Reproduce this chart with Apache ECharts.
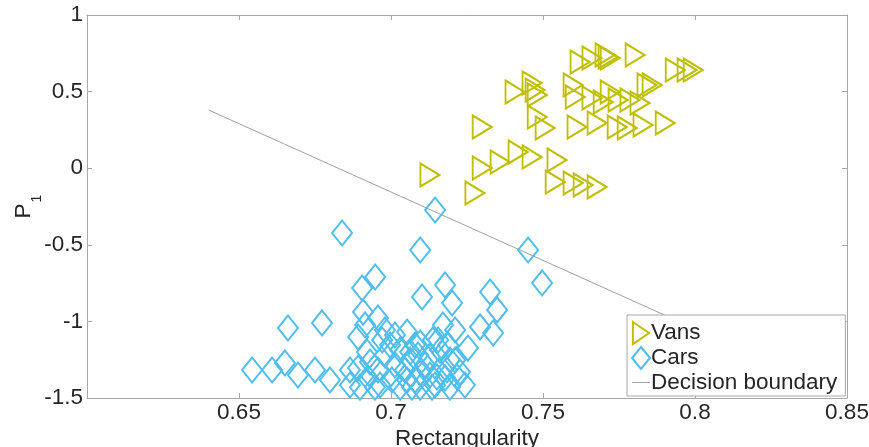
<!DOCTYPE html>
<html>
<head>
<meta charset="utf-8">
<script src="https://cdn.jsdelivr.net/npm/echarts@6/dist/echarts.min.js"></script>
<style>
html,body{margin:0;padding:0;background:#fff;}
#chart{width:869px;height:447px;}
</style>
</head>
<body>
<div id="chart"></div>
<script>
// Vans: [rectangularity, P1]
const vans = [
  [0.7128,-0.044],[0.7276,-0.162],[0.7300,0.269],[0.7300,0.001],[0.7359,0.041],
  [0.7418,0.106],[0.7464,0.073],[0.7408,0.497],[0.7464,0.556],[0.7474,0.510],
  [0.7481,0.478],[0.7481,0.334],[0.7507,0.262],[0.7546,0.054],[0.7540,-0.090],
  [0.7599,-0.097],[0.7632,-0.110],[0.7678,-0.123],[0.7599,0.543],[0.7606,0.465],
  [0.7612,0.269],[0.7622,0.693],[0.7661,0.719],[0.7704,0.739],[0.7714,0.726],
  [0.7721,0.719],[0.7803,0.739],[0.7661,0.458],[0.7721,0.497],[0.7698,0.432],
  [0.7747,0.445],[0.7786,0.445],[0.7819,0.426],[0.7842,0.543],[0.7859,0.543],
  [0.7678,0.295],[0.7744,0.269],[0.7777,0.262],[0.7829,0.282],[0.7902,0.295],
  [0.7935,0.641],[0.7974,0.641],[0.7994,0.641]
];
// Cars: [rectangularity, P1]
const cars = [
  [0.6839,-0.423],[0.7145,-0.273],[0.7096,-0.534],[0.7451,-0.534],[0.7497,-0.749],
  [0.6948,-0.710],[0.6905,-0.782],[0.7178,-0.762],[0.7102,-0.841],[0.6661,-1.043],
  [0.6773,-1.010],[0.6908,-0.939],[0.6957,-0.978],[0.7201,-0.880],[0.7326,-0.808],
  [0.7349,-0.925],[0.7293,-1.036],[0.7336,-1.076],[0.7171,-1.023],[0.7211,-1.056],
  [0.7253,-1.174],[0.6543,-1.317],[0.6609,-1.317],[0.6651,-1.271],[0.6694,-1.350],
  [0.6750,-1.317],[0.6799,-1.382],[0.6865,-1.317],[0.6892,-1.102],[0.6921,-1.200],
  [0.6971,-1.121],[0.7053,-1.069],[0.7063,-1.200],[0.7138,-1.121],[0.7096,-1.141],
  [0.7128,-1.232],[0.7161,-1.187],[0.7194,-1.252],[0.7217,-1.363],[0.7151,-1.363],
  [0.7096,-1.337],[0.7053,-1.382],[0.7184,-1.317],[0.6931,-1.265],[0.6892,-1.304],
  [0.6924,-1.369],[0.6957,-1.317],[0.6980,-1.219],[0.6997,-1.154],[0.7013,-1.284],
  [0.6964,-1.415],[0.7003,-1.382],[0.7030,-1.430],[0.6947,-1.430],[0.7046,-1.317],
  [0.7063,-1.252],[0.7079,-1.382],[0.7096,-1.430],[0.7112,-1.284],[0.7128,-1.350],
  [0.7145,-1.415],[0.7178,-1.369],[0.7194,-1.430],[0.7211,-1.252],[0.7227,-1.330],
  [0.7243,-1.415],[0.7030,-1.187],[0.7079,-1.154],[0.7155,-1.121],[0.7188,-1.154],
  [0.6980,-1.056],[0.6915,-1.023],[0.6865,-1.415],[0.6898,-1.430],[0.7069,-1.430],
  [0.7135,-1.430],[0.7089,-1.219],[0.7013,-1.089]
];
// Decision boundary end points
const boundary = [[0.64,0.38],[0.80,-1.048]];

const xTicks = {min:0.6, max:0.85, interval:0.05};
const yTicks = {min:-1.5, max:1, interval:0.5};

const textColor = '#262626';
const axisColor = '#a8a8a8';
const font = 'Liberation Sans, Arial, sans-serif';
const fs = 22.5;

const chart = echarts.init(document.getElementById('chart'), null, {renderer:'canvas'});
const triPath = 'path://M0,0 L17,11.5 L0,23 Z';

function axisBase() {
  return {
    axisLine:{show:true, onZero:false, lineStyle:{color:axisColor, width:1}},
    axisTick:{show:true, inside:true, length:5, lineStyle:{color:axisColor}},
    splitLine:{show:false}
  };
}

chart.setOption({
  animation:false,
  backgroundColor:'#fff',
  grid:{left:87, right:22, top:15, bottom:49, containLabel:false, outerBoundsMode:'none'},
  xAxis:[
    Object.assign(axisBase(), {
      type:'value', position:'bottom', min:xTicks.min, max:xTicks.max, interval:xTicks.interval,
      axisLabel:{color:textColor, fontSize:fs, fontFamily:font, margin:3, showMinLabel:false,
        formatter:v=>String(Math.round(v*100)/100)},
      name:'Rectangularity', nameLocation:'middle', nameGap:29, nameMoveOverlap:false,
      nameTextStyle:{color:textColor, fontSize:fs, fontFamily:font}
    }),
    Object.assign(axisBase(), {
      type:'value', position:'top', min:xTicks.min, max:xTicks.max, interval:xTicks.interval,
      axisLabel:{show:false}
    })
  ],
  yAxis:[
    Object.assign(axisBase(), {
      type:'value', position:'left', min:yTicks.min, max:yTicks.max, interval:yTicks.interval,
      axisLabel:{color:textColor, fontSize:fs, fontFamily:font, margin:4},
      name:'P{s|1}', nameLocation:'middle', nameGap:52, nameRotate:90, nameMoveOverlap:false,
      nameTextStyle:{color:textColor, fontSize:fs, fontFamily:font,
        rich:{s:{fontSize:14, fontFamily:font, color:textColor, verticalAlign:'bottom', padding:[0,0,-9,1]}}}
    }),
    Object.assign(axisBase(), {
      type:'value', position:'right', min:yTicks.min, max:yTicks.max, interval:yTicks.interval,
      axisLabel:{show:false}
    })
  ],
  legend:{
    orient:'vertical', left:627, top:315,
    padding:[6,8,2,4], itemGap:1, itemWidth:18, itemHeight:22,
    backgroundColor:'#fff', borderColor:axisColor, borderWidth:1, borderRadius:0,
    textStyle:{color:textColor, fontSize:fs, fontFamily:font, padding:[0,0,0,-4]},
    data:[
      {name:'Vans', icon:triPath},
      {name:'Cars', icon:'diamond'},
      {name:'Decision boundary', icon:'path://M0,10 L18,10 L18,11 L0,11 Z',
        itemStyle:{color:'#a0a0a0', borderWidth:0}}
    ]
  },
  series:[
    {
      name:'Vans', type:'scatter', data:vans,
      symbol:triPath, symbolSize:[19,23],
      itemStyle:{color:'rgba(0,0,0,0)', borderColor:'#bfbf00', borderWidth:2, opacity:1},
      z:3
    },
    {
      name:'Cars', type:'scatter', data:cars,
      symbol:'diamond', symbolSize:[20,25],
      itemStyle:{color:'rgba(0,0,0,0)', borderColor:'#4dbeee', borderWidth:2, opacity:1},
      z:3
    },
    {
      name:'Decision boundary', type:'line', data:boundary,
      symbol:'none', showSymbol:false,
      lineStyle:{color:'#a0a0a0', width:1},
      itemStyle:{color:'#a0a0a0'},
      z:2
    }
  ]
});
</script>
</body>
</html>
